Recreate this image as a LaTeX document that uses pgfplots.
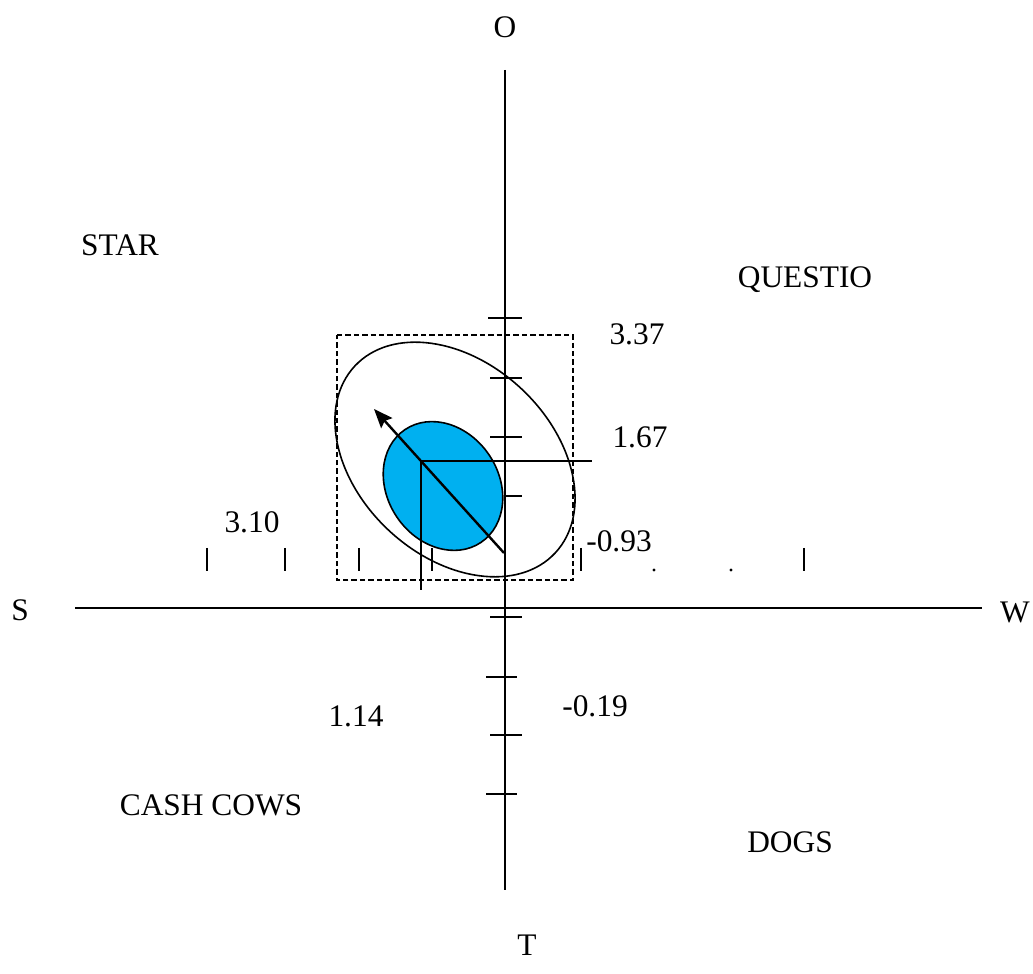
\documentclass[border=0pt]{standalone}
\usepackage{pgfplots}
\pgfplotsset{compat=1.18}
\usepackage{fontspec}
\setmainfont{Liberation Serif}
\usetikzlibrary{arrows.meta}
\definecolor{qblue}{RGB}{0,176,240}
\begin{document}
\fontsize{15.7}{18}\selectfont
\begin{tikzpicture}[lbl/.style={inner sep=0pt, outer sep=0pt}]
\begin{axis}[
    x=0.5pt, y=0.5pt,
    xmin=0, xmax=1033, ymin=0, ymax=974,
    hide axis, clip=false,
    unbounded coords=jump,
    ln/.style={black, line width=0.8pt, mark=none},
    ]
  % bounding frame (invisible)
  \path (axis cs:0,0) rectangle (axis cs:1033,974);

  % outer ellipse and filled inner ellipse
  \draw[line width=0.8pt, rotate around={-43:(axis cs:455,514.5)}]
    (axis cs:455,514.5) ellipse [x radius=68.5pt, y radius=48.5pt];
  \draw[line width=0.8pt, fill=qblue, rotate around={-56:(axis cs:443,488)}]
    (axis cs:443,488) ellipse [x radius=34pt, y radius=27.8pt];

  % dashed box
  \addplot[ln, line width=0.75pt, dash pattern=on 2.7pt off 1.5pt] coordinates {
    (337,639) (573,639) (573,394) (337,394) (337,639)};

  % main axes
  \addplot[ln] coordinates {(75,366) (982,366)};
  \addplot[ln] coordinates {(505,904) (505,84)};

  % ticks on the vertical line
  \addplot[ln] coordinates {
    (488,656) (522,656) (nan,nan)
    (490,596) (522,596) (nan,nan)
    (490,537) (522,537) (nan,nan)
    (505,478) (522,478) (nan,nan)
    (490,357) (522,357) (nan,nan)
    (486,297) (517,297) (nan,nan)
    (490,239) (522,239) (nan,nan)
    (486,180) (517,180)};

  % ticks above the horizontal line
  \addplot[ln] coordinates {
    (207,426) (207,403) (nan,nan)
    (285,426) (285,403) (nan,nan)
    (359,426) (359,403) (nan,nan)
    (432,426) (432,403) (nan,nan)
    (581,426) (581,403) (nan,nan)
    (804,426) (804,403)};
  \addplot[black, only marks, mark=*, mark size=0.5pt] coordinates {(654,404) (731,404)};

  % cross lines from the centre
  \addplot[ln] coordinates {(421,384) (421,513) (592,513)};

  % arrow
  \addplot[ln, line width=1.2pt, -{Stealth[length=9.5pt, width=7.5pt, inset=1.5pt]}]
    coordinates {(504,421) (374,565)};

  % labels
  \node[lbl] at (axis cs:505,947) {O};
  \node[lbl] at (axis cs:527,29) {T};
  \node[lbl] at (axis cs:20,364) {S};
  \node[lbl] at (axis cs:1015,362) {W};
  \node[lbl] at (axis cs:120,729) {STAR};
  \node[lbl] at (axis cs:805,694) {QUESTIO};
  \node[lbl] at (axis cs:211,169) {CASH COWS};
  \node[lbl] at (axis cs:790,132) {DOGS};
  \node[lbl] at (axis cs:637,640) {3.37};
  \node[lbl] at (axis cs:640,537) {1.67};
  \node[lbl] at (axis cs:619,433) {-0.93};
  \node[lbl] at (axis cs:252,452) {3.10};
  \node[lbl] at (axis cs:356,258) {1.14};
  \node[lbl] at (axis cs:595,268) {-0.19};
\end{axis}
\end{tikzpicture}
\end{document}
